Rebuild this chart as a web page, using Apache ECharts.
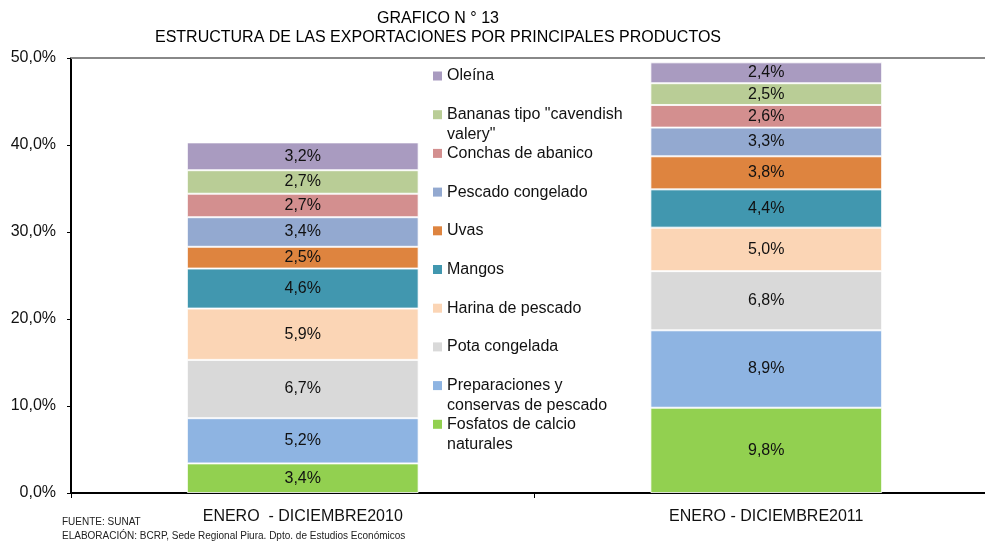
<!DOCTYPE html>
<html>
<head>
<meta charset="utf-8">
<script src="https://cdn.jsdelivr.net/npm/echarts@6/dist/echarts.min.js"></script>
<style>
  html, body { margin: 0; padding: 0; background: #fff; }
  #chart { width: 985px; height: 541px; }
</style>
</head>
<body>
<div id="chart"></div>
<script>
// categorias y valores (porcentaje de las exportaciones)
var periods = ['ENERO  - DICIEMBRE2010', 'ENERO - DICIEMBRE2011'];
var products = [
    'Fosfatos de calcio naturales',
    'Preparaciones y conservas de pescado',
    'Pota congelada',
    'Harina de pescado',
    'Mangos',
    'Uvas',
    'Pescado congelado',
    'Conchas de abanico',
    'Bananas tipo "cavendish valery"',
    'Oleína'
];
// texto de la leyenda (con saltos de linea como en el original)
var legendText = [
    'Fosfatos de calcio\nnaturales',
    'Preparaciones y\nconservas de pescado',
    'Pota congelada',
    'Harina de pescado',
    'Mangos',
    'Uvas',
    'Pescado congelado',
    'Conchas de abanico',
    'Bananas tipo "cavendish\nvalery"',
    'Oleína'
];
var values2010 = [3.4, 5.2, 6.7, 5.9, 4.6, 2.5, 3.4, 2.7, 2.7, 3.2];
var values2011 = [9.8, 8.9, 6.8, 5.0, 4.4, 3.8, 3.3, 2.6, 2.5, 2.4];
var colors = ['#92D050', '#8EB4E2', '#D9D9D9', '#FBD5B5', '#4197AF', '#DE843F', '#93A9D0', '#D38F8F', '#B9CD96', '#A99BC0'];

var chart = echarts.init(document.getElementById('chart'));

function pct(v) {
    return v.toFixed(1).replace('.', ',') + '%';
}

var series = products.map(function (name, i) {
    return {
        name: name,
        type: 'bar',
        stack: 'total',
        barWidth: '50%',
        data: [values2010[i], values2011[i]],
        itemStyle: {
            color: colors[i],
            borderColor: 'rgba(255,255,255,0.8)',
            borderWidth: 1
        },
        label: {
            show: true,
            position: 'inside',
            fontSize: 16,
            color: '#111',
            formatter: function (p) { return pct(p.value); }
        }
    };
});

// una leyenda por producto, de arriba hacia abajo (orden inverso a la pila)
var legends = [];
for (var k = 0; k < products.length; k++) {
    var idx = products.length - 1 - k;
    var text = legendText[idx];
    if (text.indexOf('\n') >= 0) text = '\n' + text; // icono alineado con la primera linea
    var lines = text.split('\n').length;
    legends.push({
        data: [{ name: products[idx], icon: 'rect' }],
        left: 433,
        top: 76 + k * 38.7 - lines * 10,
        padding: 0,
        itemWidth: 9,
        itemHeight: 9,
        itemStyle: { borderWidth: 0 },
        selectedMode: false,
        formatter: (function (t) { return function () { return t; }; })(text),
        textStyle: { fontSize: 16, lineHeight: 20, color: '#111' }
    });
}

var option = {
    animation: false,
    textStyle: { fontFamily: '"Liberation Sans", Arial, sans-serif' },
    grid: { left: 71, width: 927, top: 58, height: 435, outerBoundsMode: 'none' },
    legend: legends,
    xAxis: [
        {
            type: 'category',
            data: periods,
            axisLine: { lineStyle: { color: '#000', width: 2 } },
            axisTick: { show: true, length: 5, lineStyle: { color: '#000' } },
            axisLabel: { fontSize: 16, color: '#111', margin: 16 }
        },
        {
            type: 'category',
            position: 'top',
            data: periods,
            axisLine: { lineStyle: { color: '#888', width: 2 } },
            axisTick: { show: false },
            axisLabel: { show: false }
        }
    ],
    yAxis: {
        type: 'value',
        min: 0,
        max: 50,
        interval: 10,
        axisLine: { show: true, lineStyle: { color: '#000', width: 2 } },
        axisTick: { show: true, length: 4, lineStyle: { color: '#000' } },
        splitLine: { show: false },
        axisLabel: { fontSize: 16, color: '#111', margin: 15, formatter: pct }
    },
    graphic: [
        {
            type: 'text', x: 438, y: 19,
            style: {
                text: 'GRAFICO N ° 13', align: 'center', verticalAlign: 'middle',
                font: '16px "Liberation Sans", Arial', fill: '#000'
            }
        },
        {
            type: 'text', x: 438, y: 38,
            style: {
                text: 'ESTRUCTURA DE LAS EXPORTACIONES POR PRINCIPALES PRODUCTOS',
                align: 'center', verticalAlign: 'middle',
                font: '16px "Liberation Sans", Arial', fill: '#000'
            }
        },
        {
            type: 'text', x: 62, y: 522,
            style: { text: 'FUENTE: SUNAT', verticalAlign: 'middle', font: '10px "Liberation Sans", Arial', fill: '#222' }
        },
        {
            type: 'text', x: 62, y: 536,
            style: {
                text: 'ELABORACIÓN: BCRP, Sede Regional Piura. Dpto. de Estudios Económicos',
                verticalAlign: 'middle', font: '10px "Liberation Sans", Arial', fill: '#222'
            }
        }
    ],
    series: series
};

chart.setOption(option);
</script>
</body>
</html>
